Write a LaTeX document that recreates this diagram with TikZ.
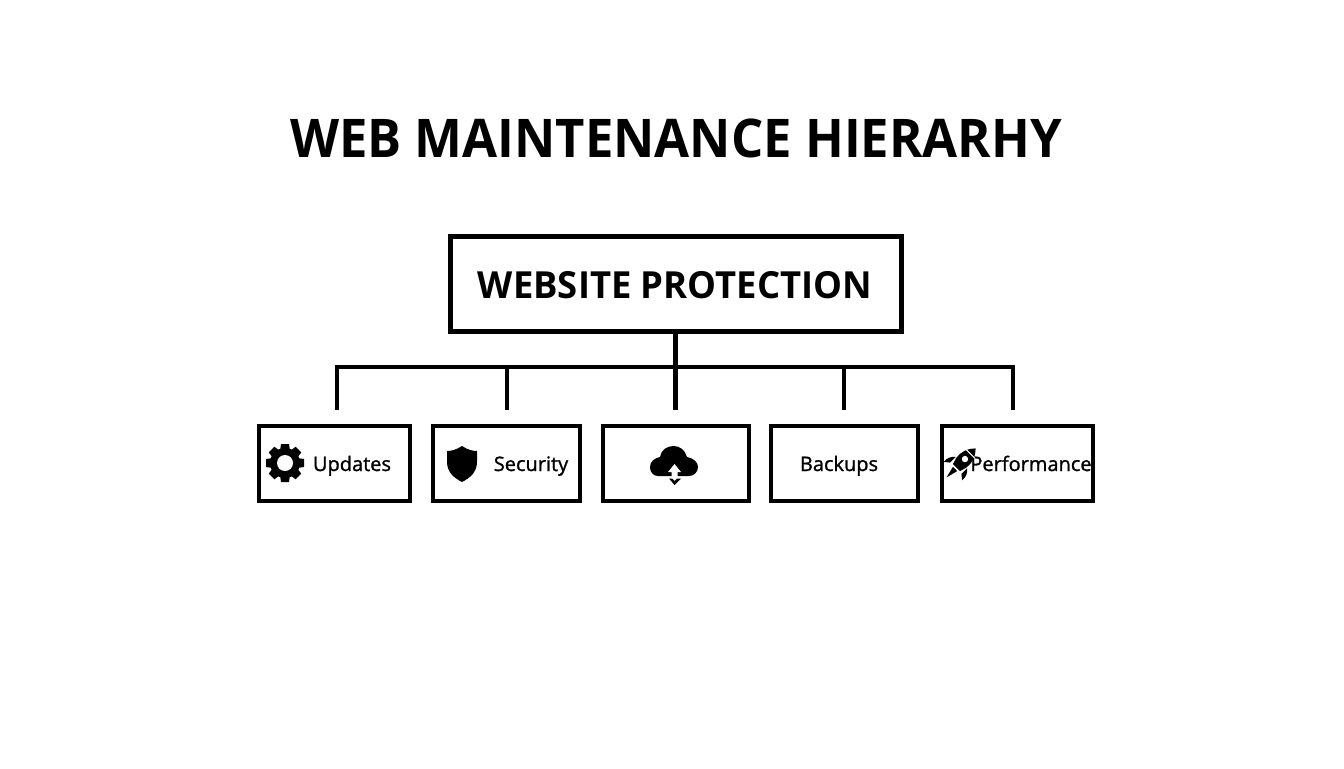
\documentclass[tikz,border=0pt]{standalone}
\usepackage{fontspec}
\setmainfont{Open Sans}[BoldFont={Open Sans Bold}]
\newfontfamily\medfont{Open Sans}[FakeBold=1.2]
\newfontfamily\titlefont{Open Sans}[BoldFont={Open Sans Bold},FakeStretch=0.952]
\newfontfamily\rootfont{Open Sans}[BoldFont={Open Sans Bold},FakeStretch=0.975]
\begin{document}
\begin{tikzpicture}[x=0.75pt,y=-0.75pt,
  titletext/.style={inner sep=0pt,font=\fontsize{40}{44}\titlefont\bfseries\selectfont,text=black},
  rootbox/.style={draw=black,line width=3.75pt,minimum width=451*0.75pt,minimum height=95*0.75pt,inner sep=0pt},
  roottext/.style={inner sep=0pt,font=\fontsize{28}{32}\rootfont\bfseries\selectfont},
  childbox/.style={draw=black,line width=3pt,minimum height=75*0.75pt,inner sep=0pt},
  lbl/.style={inner sep=0pt,anchor=base,font=\fontsize{15}{18}\selectfont\medfont},
  link/.style={draw=black,line width=3.6pt},
  icon/.style={fill=black,draw=none}]
\useasboundingbox (0,0) rectangle (1344,768);
\fill[white] (0,0) rectangle (1344,768);
\node[titletext] (title) at (676,138.5) {WEB MAINTENANCE HIERARHY};
\node[rootbox] (root) at (675.5,283.5) {};
\node[roottext] (rootlabel) at (675,285) {WEBSITE PROTECTION};
\node[childbox,minimum width=151*0.75pt] (c1) at (334.5,463.5) {};
\node[childbox,minimum width=147*0.75pt] (c2) at (506.5,463.5) {};
\node[childbox,minimum width=146*0.75pt] (c3) at (676,463.5) {};
\node[childbox,minimum width=147*0.75pt] (c4) at (844.5,463.5) {};
\node[childbox,minimum width=151*0.75pt] (c5) at (1017.5,463.5) {};
\node[lbl] (l1) at (352,471) {Updates};
\node[lbl] (l2) at (531,471) {Security};
\node[lbl] (l4) at (839,471) {Backups};
\node[lbl] (l5) at (1031,471) {Performance};
% connectors
\coordinate (bus) at (675.5,367);
\coordinate (d1) at (337,410);
\coordinate (d2) at (507,410);
\coordinate (d3) at (675.5,410);
\coordinate (d4) at (844,410);
\coordinate (d5) at (1013,410);
\draw[link] (root.south) -- (d3);
\draw[link,line join=miter] (d1) |- (bus) -| (d5);
\draw[link] (d2) -- (d2|-bus);
\draw[link] (d4) -- (d4|-bus);
% gear
\begin{scope}[shift={(285,463)}]
\foreach \a in {0,45,...,315}{
  \fill[icon,rotate=\a] (-5,-12) -- (-4,-19) -- (4,-19) -- (5,-12) -- cycle;
}
\fill[icon] (0,0) circle (15);
\fill[white] (0,0) circle (8);
\end{scope}
% shield
\fill[icon] (462,446) .. controls (468,450) and (473,451) .. (477,451)
  -- (477,462) .. controls (477,472) and (470,478) .. (462,482)
  .. controls (454,478) and (447,472) .. (447,462) -- (447,451)
  .. controls (451,451) and (456,450) .. (462,446) -- cycle;
% cloud
\fill[icon] (658,476) .. controls (653,476) and (650,472) .. (650,467)
  .. controls (650,462) and (654,458) .. (660,457)
  .. controls (661,450) and (667,446) .. (673.5,446)
  .. controls (680,446) and (685,450) .. (687,457)
  .. controls (693,458) and (698,462) .. (698,467)
  .. controls (698,472) and (694,476) .. (689,476) -- cycle;
\fill[white] (674.5,464) -- (681,472) -- (677.5,472) -- (677.5,480) -- (671.5,480) -- (671.5,472) -- (668,472) -- cycle;
\fill[icon] (669,478.5) -- (672,478.5) -- (674.5,481) -- (677,478.5) -- (681,478.5) -- (674.5,485) -- cycle;
% rocket
\begin{scope}[shift={(960,464)},rotate=-45]
\fill[icon] (0,-22) .. controls (6,-16) and (8,-9) .. (7,-2) -- (5,5) -- (-5,5)
  -- (-7,-2) .. controls (-8,-9) and (-6,-16) .. (0,-22) -- cycle;
\draw[white,line width=0.8pt] (-6.5,-14.5) -- (6.5,-14.5);
\fill[white] (0,-7) circle (3.2);
\fill[icon] (-8,-2) -- (-8,6) -- (-13,10) .. controls (-13.5,5) and (-12,1) .. (-8,-2) -- cycle;
\fill[icon] (8,-2) -- (8,6) -- (13,10) .. controls (13.5,5) and (12,1) .. (8,-2) -- cycle;
\fill[icon] (-3,7) -- (3,7) -- (0,19) -- cycle;
\end{scope}
\end{tikzpicture}
\end{document}
